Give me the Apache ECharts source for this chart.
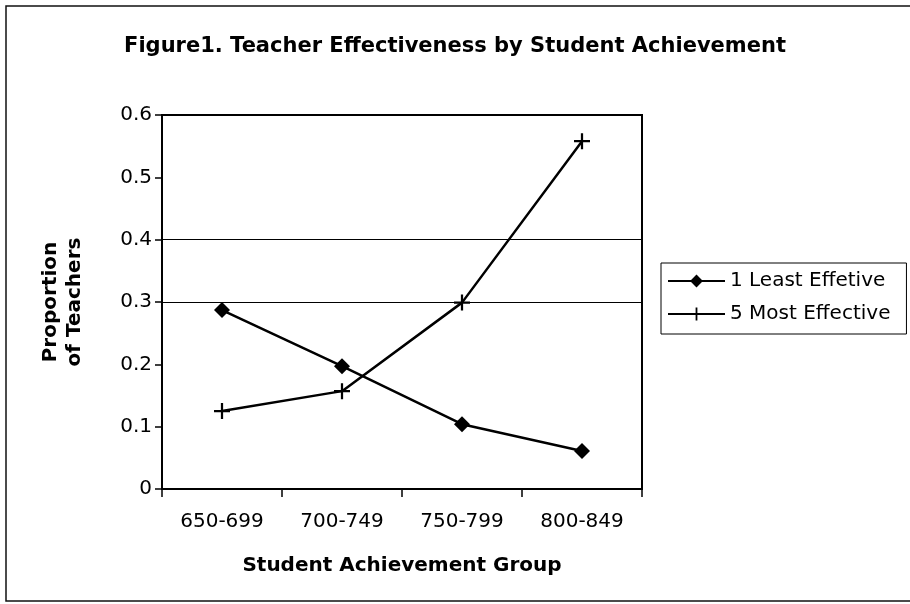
<!DOCTYPE html>
<html>
<head>
<meta charset="utf-8">
<script src="https://cdn.jsdelivr.net/npm/echarts@6/dist/echarts.min.js"></script>
<style>
  html, body { margin: 0; padding: 0; background: #fff; }
  #chart { width: 910px; height: 604px; }
</style>
</head>
<body>
<div id="chart"></div>
<script>
const groups = ['650-699', '700-749', '750-799', '800-849'];
const leastEffective = [0.287, 0.197, 0.104, 0.061];
const mostEffective = [0.125, 0.157, 0.299, 0.558];
const gridLineValues = [0.3, 0.4];
const FONT = 'DejaVu Sans';

const plusSymbol = 'path://M0,4.3H10V5.7H0ZM4.3,0H5.7V10H4.3Z';

const chart = echarts.init(document.getElementById('chart'));

const option = {
  backgroundColor: '#fff',
  animation: false,
  textStyle: { fontFamily: FONT, color: '#000' },
  title: {
    text: 'Figure1. Teacher Effectiveness by Student Achievement',
    left: 'center',
    top: 31,
    textStyle: { fontFamily: FONT, fontSize: 21, fontWeight: 'bold', color: '#000' }
  },
  graphic: [{
    type: 'rect',
    shape: { x: 6, y: 6, width: 930, height: 595 },
    style: { fill: 'none', stroke: '#111', lineWidth: 1.5 },
    silent: true
  }],
  legend: {
    orient: 'vertical',
    left: 661,
    top: 263,
    borderColor: '#000',
    borderWidth: 1,
    padding: [8, 16, 10, 6],
    itemWidth: 57,
    itemHeight: 16,
    itemGap: 13,
    textStyle: { fontFamily: FONT, fontSize: 20, color: '#000' },
    data: ['1 Least Effetive', '5 Most Effective']
  },
  grid: {
    left: 162,
    top: 115,
    right: 268,
    bottom: 115,
    show: true,
    borderColor: '#000',
    borderWidth: 2
  },
  xAxis: {
    type: 'category',
    data: groups,
    boundaryGap: true,
    name: 'Student Achievement Group',
    nameLocation: 'middle',
    nameGap: 67,
    nameTextStyle: { fontFamily: FONT, fontSize: 20, fontWeight: 'bold', color: '#000' },
    axisLine: { lineStyle: { color: '#000', width: 2 } },
    axisTick: { show: true, length: 8, lineStyle: { color: '#000', width: 1.5 } },
    axisLabel: { fontFamily: FONT, fontSize: 20, color: '#000', margin: 23 }
  },
  yAxis: {
    type: 'value',
    min: 0,
    max: 0.6,
    interval: 0.1,
    name: 'Proportion\nof Teachers',
    nameLocation: 'middle',
    nameRotate: 90,
    nameGap: 75,
    nameTextStyle: { fontFamily: FONT, fontSize: 20, fontWeight: 'bold', color: '#000', lineHeight: 24 },
    axisLine: { show: true, lineStyle: { color: '#000', width: 2 } },
    axisTick: { show: true, length: 7, lineStyle: { color: '#000', width: 1.5 } },
    axisLabel: { fontFamily: FONT, fontSize: 20, color: '#000', margin: 10 },
    splitLine: { show: false }
  },
  series: [
    {
      name: '1 Least Effetive',
      type: 'line',
      data: leastEffective,
      symbol: 'diamond',
      symbolSize: 16,
      itemStyle: { color: '#000' },
      lineStyle: { color: '#000', width: 2.5 },
      markLine: {
        silent: true,
        symbol: 'none',
        label: { show: false },
        lineStyle: { color: '#000', width: 1, type: 'solid' },
        data: gridLineValues.map(v => ({ yAxis: v }))
      }
    },
    {
      name: '5 Most Effective',
      type: 'line',
      data: mostEffective,
      symbol: plusSymbol,
      symbolSize: 16,
      itemStyle: { color: '#000' },
      lineStyle: { color: '#000', width: 2.5 }
    }
  ]
};

chart.setOption(option);
</script>
</body>
</html>
